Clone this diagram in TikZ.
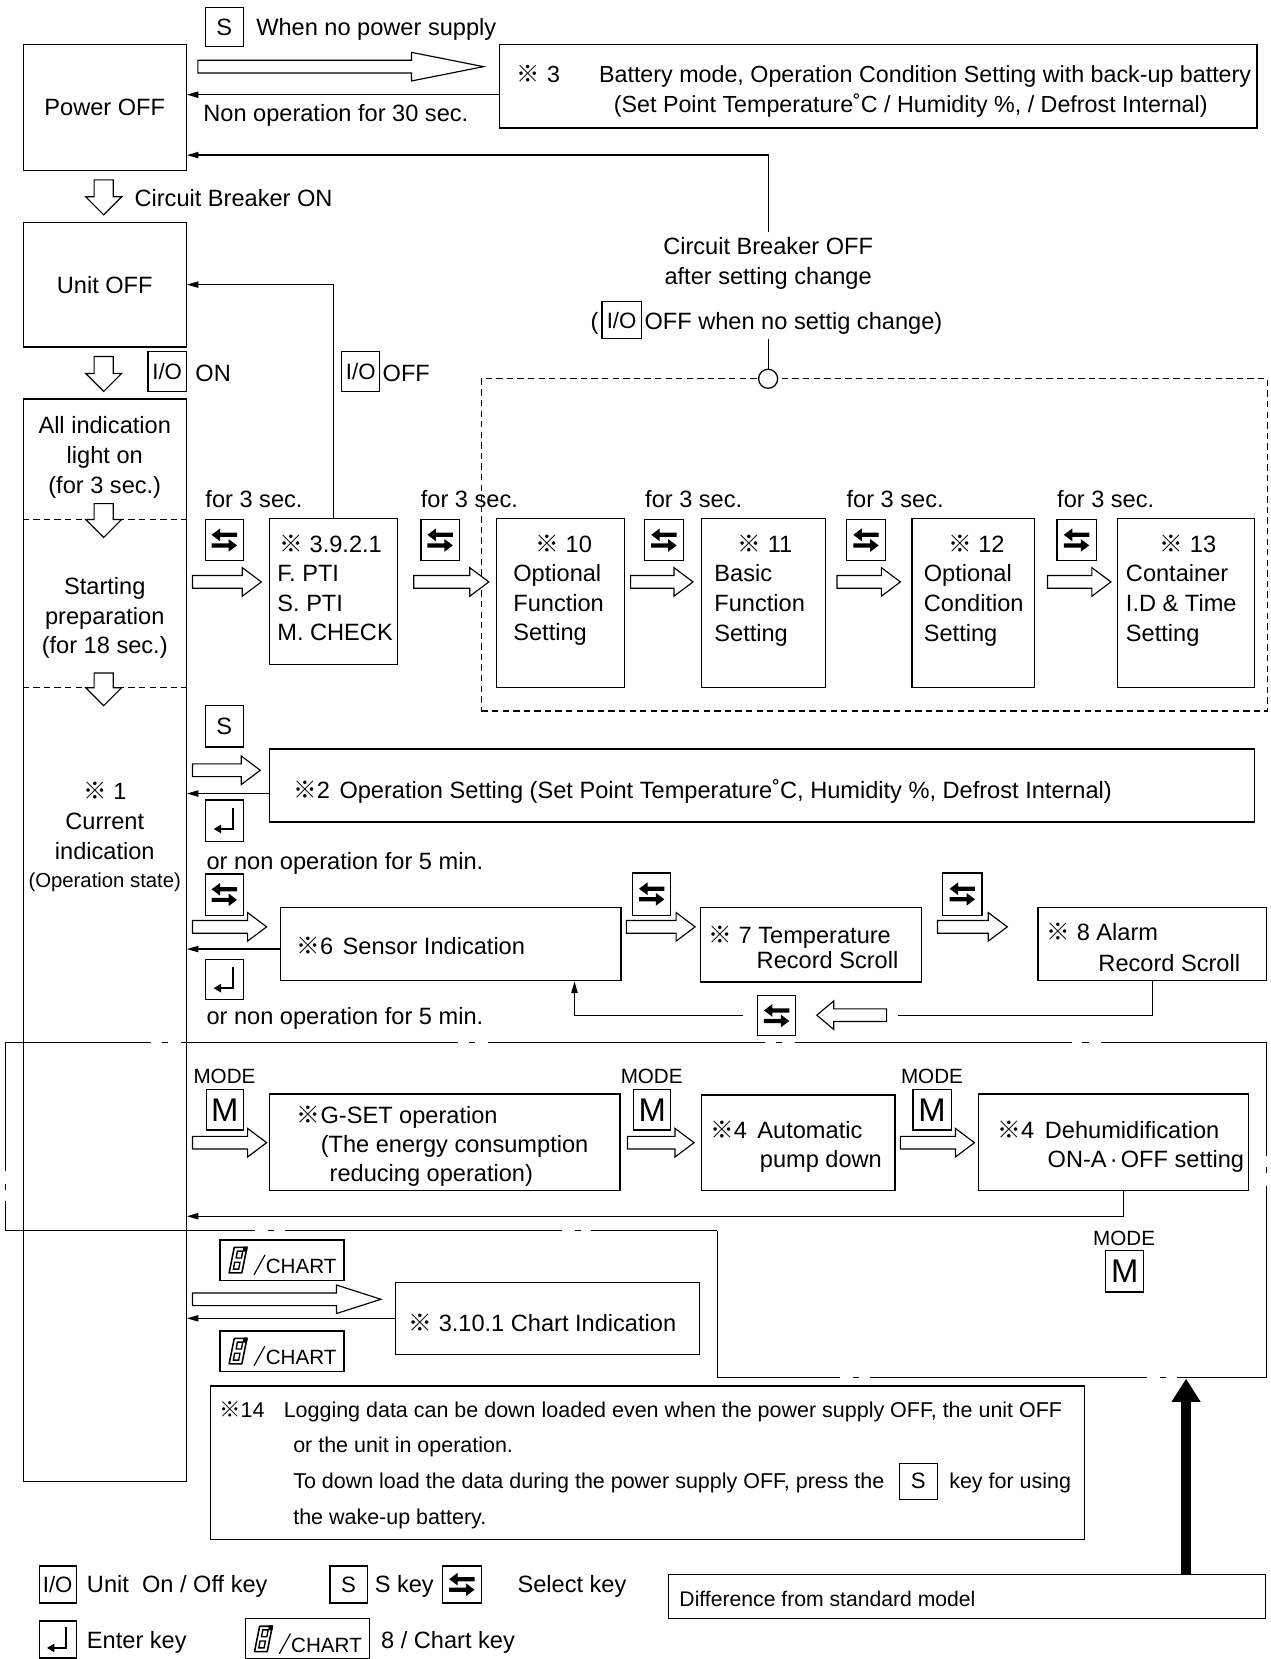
\documentclass[tikz,border=0pt]{standalone}
\usepackage{fontspec}
\setmainfont{Liberation Sans}
\newfontfamily\cjkf{Noto Sans CJK JP}
\usetikzlibrary{arrows.meta,calc}
\newcommand\fsz[1]{\fontsize{#1}{#1}\selectfont}
\newcommand\kome{{\cjkf ※}}
\tikzset{
  ln/.style={line width=1.2pt},
  box/.style={draw, line width=1.2pt, inner sep=0pt, font=\fsz{22.3}},
  txt/.style={inner sep=0pt, anchor=base west, font=\fsz{22.3}},
  ctxt/.style={inner sep=0pt, anchor=base, font=\fsz{22.3}},
  conn/.style={line width=1.2pt, -{Triangle[length=11pt,width=6pt]}},
  hol/.style={draw, line width=1.1pt, fill=white, line join=miter},
  dsh/.style={line width=1.1pt, dash pattern=on 6pt off 4pt},
  dd/.style={line width=1.2pt, dash pattern=on 262pt off 10pt on 6pt off 12pt},
  selicon/.pic={
    \fill (-12,-5) -- (-4,-11) -- (-4,-7) -- (12,-7) -- (12,-3) -- (-4,-3) -- (-4,1) -- cycle;
    \fill (12,5) -- (4,-1) -- (4,3) -- (-12,3) -- (-12,7) -- (4,7) -- (4,11) -- cycle;},
  entericon/.pic={
    \draw[line width=2.2pt] (8,-12) -- (8,8) -- (-4,8);
    \fill (-10,8) -- (-3,3.8) -- (-3,12.2) -- cycle;},
  eighticon/.pic={
    \draw[line width=1.5pt, line join=round] (-3.6,-12) -- (8.4,-12) -- (3.6,12) -- (-8.4,12) -- cycle;
    \draw[line width=1.3pt] (-0.6,-8.5) -- (4.4,-8.5) -- (3.2,-2) -- (-1.8,-2) -- cycle;
    \draw[line width=1.3pt] (-3.2,2) -- (1.8,2) -- (0.6,8.5) -- (-4.4,8.5) -- cycle;
    \fill (5.2,-12.7) -- (9.2,-12.7) -- (8.3,-8) -- (4.3,-8) -- cycle;}
}
% box from corners: [opts]{name}{x1}{y1}{x2}{y2}{content}
\newcommand\bx[7][]{\node[box,minimum width={(#5)-(#3)},minimum height={(#6)-(#4)},#1] (#2) at ({((#3)+(#5))/2},{((#4)+(#6))/2}) {#7};}
\newcommand\selk[5]{\bx{#1}{#2}{#3}{#4}{#5}{}\pic at (#1.center) {selicon};}
\newcommand\entk[5]{\bx{#1}{#2}{#3}{#4}{#5}{}\pic at (#1.center) {entericon};}
\newcommand\chk[3]{\bx{#1}{#2}{#3}{#2+117}{#3+38}{}%
  \pic at ({#2+17},{#3+19}) {eighticon};%
  \draw[line width=1.1pt] ({#2+32},{#3+33}) -- ({#2+42.5},{#3+14});%
  \node[txt,font=\fsz{19.5}] (#1t) at ({#2+43},{#3+32}) {CHART};}
% hollow arrows
\newcommand\hR[4]{\draw[hol] ({#1},{#3-6}) -- ({#2-#4},{#3-6}) -- ({#2-#4},{#3-13.5}) -- ({#2},{#3}) -- ({#2-#4},{#3+13.5}) -- ({#2-#4},{#3+6}) -- ({#1},{#3+6}) -- cycle;}
\newcommand\hL[4]{\draw[hol] ({#2},{#3-6}) -- ({#1+#4},{#3-6}) -- ({#1+#4},{#3-13.5}) -- ({#1},{#3}) -- ({#1+#4},{#3+13.5}) -- ({#1+#4},{#3+6}) -- ({#2},{#3+6}) -- cycle;}
\newcommand\hD[4]{\draw[hol] ({#1-9},{#2}) -- ({#1-9},{#3-#4}) -- ({#1-17},{#3-#4}) -- ({#1},{#3}) -- ({#1+17},{#3-#4}) -- ({#1+9},{#3-#4}) -- ({#1+9},{#2}) -- cycle;}

\begin{document}
\begin{tikzpicture}[x=1pt,y=-1pt]
\useasboundingbox (0,0) rectangle (1201,1568);
\fill[white] (0,0) rectangle (1201,1568);

% ---------- top ----------
\bx{poff}{22}{42}{176}{161}{Power OFF}
\bx{s1}{194}{7}{230}{44}{S}
\node[txt] (tnps) at (242,34) {When no power supply};
\hR{187}{457}{63}{68}
\bx{batt}{472}{42}{1188}{121}{}
\node[txt,font=\fsz{22}] (b3) at (488,78) {\kome\hspace{7pt}3};
\node[txt,font=\fsz{22}] (b3a) at (566,78) {Battery mode, Operation Condition Setting with back-up battery};
\node[txt,font=\fsz{22}] (b3b) at (580,106) {(Set Point Temperature˚C / Humidity \%, / Defrost Internal)};
\node[txt] (tn30) at (192,115) {Non operation for 30 sec.};
\coordinate (bw) at ([yshift=-8pt]batt.west);
\draw[conn] (bw) -- (bw -| poff.east);

\node[ctxt] (cbo1) at (726,241) {Circuit Breaker OFF};
\node[ctxt] (cbo2) at (726,269) {after setting change};
\draw[conn] ([yshift=5pt]cbo1.north) |- ([yshift=15pt]poff.south east);
\node[txt] (tpar) at (558,311) {(};
\bx[font=\fsz{21}]{io3}{569}{285}{606}{320}{I/O}
\node[txt] (tnsc) at (609,311) {OFF when no settig change)};
\coordinate (pj) at (726,320);

% dashed group
\node[draw, dsh, inner sep=0pt, minimum width=743, minimum height=314] (grp) at (826.5,515) {};
\node[circle, draw, ln, fill=white, minimum size=18, inner sep=0pt] (circ) at (726,358) {};
\draw[ln] (pj) -- (circ.north);

% ---------- left column ----------
\hD{98}{170}{203}{17}
\node[txt] (tcbon) at (127,195) {Circuit Breaker ON};
\bx{uoff}{22}{210}{176}{328}{Unit OFF}
\hD{98}{337}{370}{17}
\bx[font=\fsz{21}]{io1}{140}{332}{176}{370}{I/O}
\node[txt] (ton) at (184.5,361) {ON};
\bx[font=\fsz{21}]{io2}{323}{332}{359}{370}{I/O}
\node[txt] (toff) at (361.5,361) {OFF};

\bx{col}{22}{377}{176}{1400}{}
\node[ctxt] (c1) at (99,410) {All indication};
\node[ctxt] (c2) at (99,438) {light on};
\node[ctxt] (c3) at (99,466) {(for 3 sec.)};
\draw[dsh] (col.west |- 0,491) -- (col.east |- 0,491);
\hD{98}{476}{508}{17}
\node[ctxt] (c4) at (99,562) {Starting};
\node[ctxt] (c5) at (99,590) {preparation};
\node[ctxt] (c6) at (99,618) {(for 18 sec.)};
\draw[dsh] (col.west |- 0,650) -- (col.east |- 0,650);
\hD{98}{636}{667}{17}
\node[ctxt] (c7) at (99,756) {\kome\ 1};
\node[ctxt] (c8) at (99,784) {Current};
\node[ctxt] (c9) at (99,812) {indication};
\node[ctxt,font=\fsz{19.2}] (c10) at (99,839) {(Operation state)};

% ---------- row: settings ----------
\node[txt] (f1) at (194,480) {for 3 sec.};
\selk{sk1}{194}{491}{230}{530}
\hR{182}{247}{550}{18}
\bx{pti}{255}{490}{376}{628}{}
\node[txt] (p1) at (264,522) {\kome\ 3.9.2.1};
\node[txt] (p2) at (262,550) {F. PTI};
\node[txt] (p3) at (262,578) {S. PTI};
\node[txt] (p4) at (262,605) {M. CHECK};
\draw[conn] (pti.north) |- (uoff.east);

\node[txt] (f2) at (397.6,480) {for 3 sec.};
\selk{sk2}{398}{491}{434}{530}
\hR{391}{462}{550}{18}
\bx{b10}{469}{490}{590}{650}{}
\node[txt] (b10a) at (506,522) {\kome\ 10};
\node[txt] (b10b) at (485,550) {Optional};
\node[txt] (b10c) at (485,578) {Function};
\node[txt] (b10d) at (485,605) {Setting};

\node[txt] (f3) at (609.6,480) {for 3 sec.};
\selk{sk3}{609}{491}{646}{530}
\hR{596}{655}{550}{18}
\bx{b11}{663}{490}{780}{650}{}
\node[txt] (b11a) at (697,522) {\kome\ 11};
\node[txt] (b11b) at (675,550) {Basic};
\node[txt] (b11c) at (675,578) {Function};
\node[txt] (b11d) at (675,606) {Setting};

\node[txt] (f4) at (800,480) {for 3 sec.};
\selk{sk4}{800}{491}{837}{530}
\hR{791}{851}{550}{18}
\bx{b12}{862}{490}{978}{650}{}
\node[txt] (b12a) at (896,522) {\kome\ 12};
\node[txt] (b12b) at (873,550) {Optional};
\node[txt] (b12c) at (873,578) {Condition};
\node[txt] (b12d) at (873,606) {Setting};

\node[txt] (f5) at (999,480) {for 3 sec.};
\selk{sk5}{999}{491}{1036}{530}
\hR{990}{1050}{550}{18}
\bx{b13}{1056}{490}{1186}{650}{}
\node[txt] (b13a) at (1096,522) {\kome\ 13};
\node[txt] (b13b) at (1064,550) {Container};
\node[txt] (b13c) at (1064,578) {I.D \& Time};
\node[txt] (b13d) at (1064,606) {Setting};

% ---------- row: operation setting ----------
\bx{s2}{194}{667}{230}{706}{S}
\hR{182}{246}{728}{18}
\bx{opset}{255}{708}{1186}{777}{}
\node[txt] (ops) at (277,755) {\kome 2\hspace{9pt}Operation Setting (Set Point Temperature˚C, Humidity \%, Defrost Internal)};
\coordinate (ow) at ([yshift=-7.5pt]opset.west);
\draw[conn] (ow) -- (ow -| col.east);
\entk{en1}{194}{756}{230}{795}
\node[txt] (nop1) at (195,822) {or non operation for 5 min.};

% ---------- row: sensor ----------
\selk{sk6}{194}{826}{230}{865}
\hR{182}{252}{876}{18}
\bx{sens}{265}{858}{587}{927}{}
\node[txt] (sn) at (280,902) {\kome 6\hspace{9pt}Sensor Indication};
\coordinate (sw) at ([yshift=-4.5pt]sens.west);
\draw[conn] (sw) -- (sw -| col.east);
\entk{en2}{194}{907}{230}{945}
\node[txt] (nop2) at (195,968) {or non operation for 5 min.};

\selk{sk7}{598}{825}{634}{865}
\hR{592}{657}{876}{18}
\bx{b7}{662}{858}{871}{928}{}
\node[txt] (b7a) at (669.5,892) {\kome\ 7 Temperature};
\node[txt] (b7b) at (715,915) {Record Scroll};

\selk{sk8}{891}{825}{928}{865}
\hR{886}{952}{876}{18}
\bx{b8}{981}{858}{1197}{927}{}
\node[txt] (b8a) at (989,889) {\kome\ 8 Alarm};
\node[txt] (b8b) at (1038,918) {Record Scroll};

\coordinate (r1) at (849,959.5);
\coordinate (r2) at (702,959.5);
\draw[ln] (b8.south) |- (r1);
\hL{772}{838}{959.5}{16}
\selk{sk9}{716}{941}{752}{979}
\draw[conn] (r2) -| ($(sens.south)+(117,0)$);

% ---------- difference region outline ----------
\draw[dd, dash phase=124pt] (5,985) -- (1197,985);
\draw[dd, dash phase=154pt] (1197,985) -- (1197,1302);
\draw[dd, dash phase=177pt] (1197,1302) -- (678,1302);
\draw[dd] (678,1302) -- (678,1163);
\draw[dd, dash phase=143pt] (678,1163) -- (5,1163);
\draw[dd, dash phase=234pt] (5,1163) -- (5,985);

% ---------- row: MODE ----------
\node[txt,font=\fsz{19.5}] (m1t) at (182.7,1024) {MODE};
\bx[font=\fsz{31}]{mk1}{195}{1030}{230}{1068}{M}
\hR{182}{252}{1080}{18}
\bx{gset}{255}{1034}{586}{1125}{}
\node[txt] (g1) at (280.5,1062) {\kome G-SET operation};
\node[txt] (g2) at (303,1089) {(The energy consumption};
\node[txt] (g3) at (311.4,1117) {reducing operation)};

\node[txt,font=\fsz{19.5}] (m2t) at (586.5,1024) {MODE};
\bx[font=\fsz{31}]{mk2}{599}{1030}{634}{1068}{M}
\hR{593}{656}{1080}{18}
\bx{apd}{663}{1035}{846}{1125}{}
\node[txt] (a1) at (671,1076) {\kome 4\hspace{10pt}Automatic};
\node[txt] (a2) at (718,1103) {pump down};

\node[txt,font=\fsz{19.5}] (m3t) at (851.4,1024) {MODE};
\bx[font=\fsz{31}]{mk3}{863}{1030}{899}{1068}{M}
\hR{851}{921}{1080}{18}
\bx{dehum}{925}{1034}{1180}{1125}{}
\node[txt] (d1) at (942.7,1076) {\kome 4\hspace{10pt}Dehumidification};
\node[txt] (d2) at (990,1103) {ON-A\kern3pt·\kern3pt OFF setting};
\draw[conn] ($(dehum.south)+(9.5,0)$) |- (col.east |- 0,1149.5);

\node[ctxt,font=\fsz{19.5}] (m4t) at (1062.5,1177) {MODE};
\bx[font=\fsz{31}]{mk4}{1045}{1182}{1081}{1221}{M}

% ---------- row: chart ----------
\chk{ck1}{208}{1172}
\hR{182}{360}{1228}{42}
\bx{chart}{374}{1212}{661}{1280}{}
\node[txt] (cht) at (386,1258) {\kome\ 3.10.1 Chart Indication};
\draw[conn] (chart.west) -- (chart.west -| col.east);
\chk{ck2}{208}{1258}

% ---------- note ----------
\bx{note}{199}{1310}{1025}{1455}{}
\node[txt,font=\fsz{20.3}] (n0) at (207,1340) {\kome 14};
\node[txt,font=\fsz{20.3}] (n1) at (268,1340) {Logging data can be down loaded even when the power supply OFF, the unit OFF};
\node[txt,font=\fsz{20.3}] (n2) at (277,1373) {or the unit in operation.};
\node[txt,font=\fsz{20.3}] (n3) at (277,1407) {To down load the data during the power supply OFF, press the};
\bx[font=\fsz{21}]{s3}{850}{1383}{886}{1417}{S}
\node[txt,font=\fsz{20.3}] (n3b) at (897,1407) {key for using};
\node[txt,font=\fsz{20.3}] (n4) at (277,1441) {the wake-up battery.};

% ---------- legend ----------
\bx[font=\fsz{21}]{lio}{37}{1480}{72}{1515}{I/O}
\node[txt] (l1) at (82,1505) {Unit\ \ On / Off key};
\bx[font=\fsz{21}]{ls}{312}{1480}{347}{1515}{S}
\node[txt] (l2) at (354,1505) {S key};
\selk{lsel}{418}{1480}{455}{1515}
\node[txt] (l3) at (489,1505) {Select key};
\entk{lent}{37}{1532}{72}{1567}
\node[txt] (l4) at (82,1558) {Enter key};
\chk{lck}{232}{1530}
\node[txt] (l5) at (360,1558) {8 / Chart key};
\bx{diff}{632}{1488}{1196}{1530}{}
\node[txt,font=\fsz{20}] (l6) at (642,1518) {Difference from standard model};
\coordinate (regb) at (1121,1303);
\draw[line width=10pt, -{Triangle[length=22pt,width=26pt]}] (diff.north -| regb) -- (regb);
\end{tikzpicture}
\end{document}
